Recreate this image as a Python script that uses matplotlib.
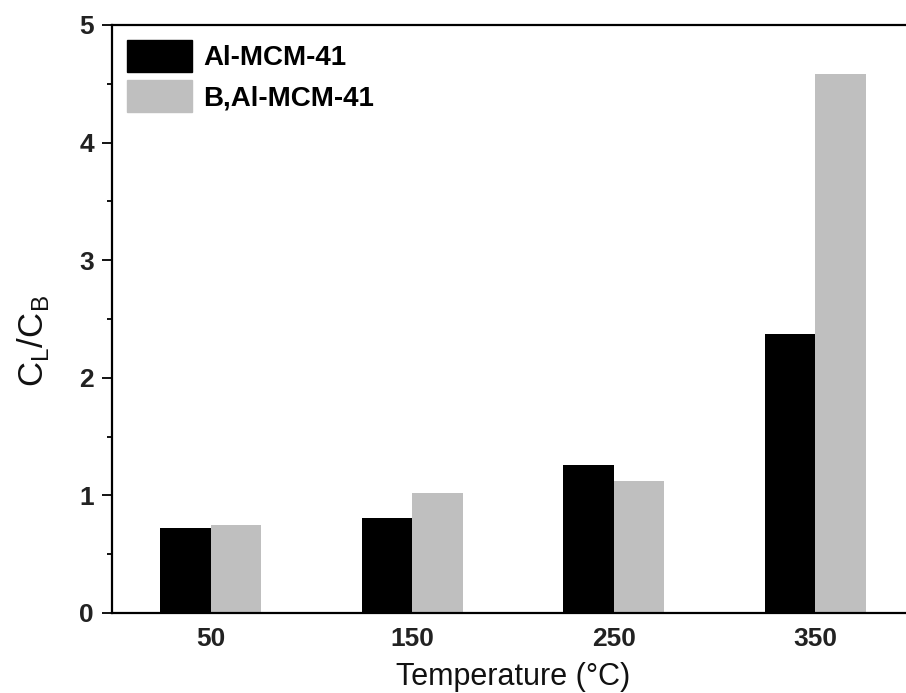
"""
Razão C_L/C_B por temperatura para Al-MCM-41 e B,Al-MCM-41.
"""

import numpy as np
import matplotlib
matplotlib.use("Agg")
import matplotlib.pyplot as plt
import matplotlib.patches as mpatches
from matplotlib.ticker import MultipleLocator

# Dados
temperaturas = ["50", "150", "250", "350"]
al_mcm = [0.72, 0.805, 1.26, 2.37]
b_al_mcm = [0.75, 1.02, 1.12, 4.58]
series = ["Al-MCM-41", "B,Al-MCM-41"]

# Cores
COR_AL = "#000000"
COR_BAL = "#bfbfbf"

plt.rcParams["font.family"] = ["Liberation Sans", "DejaVu Sans"]

W, H = 906, 693
fig = plt.figure(figsize=(W / 100, H / 100), dpi=100)
# eixo passa da borda direita, como no original recortado
ax = fig.add_axes([112 / W, (H - 613) / H, (914 - 112) / W, (613 - 25) / H])

x = np.arange(len(temperaturas))
largura = 0.25
ax.bar(x - largura / 2, al_mcm, largura, color=COR_AL, linewidth=0)
ax.bar(x + largura / 2, b_al_mcm, largura, color=COR_BAL, linewidth=0)

ax.set_xlim(-0.49, 3.49)
ax.set_ylim(0, 5)
ax.set_xticks(x)
ax.set_xticklabels(temperaturas, fontsize=19, fontweight="bold", color="#222222")
ax.yaxis.set_major_locator(MultipleLocator(1))
ax.yaxis.set_minor_locator(MultipleLocator(0.5))
ax.tick_params(axis="y", which="major", direction="out", length=7, width=1.3,
               labelsize=19, pad=6)
ax.tick_params(axis="y", which="minor", direction="out", length=3.5, width=1.3)
ax.tick_params(axis="x", length=0, pad=10)
for lbl in ax.get_yticklabels():
    lbl.set_fontweight("bold")
    lbl.set_color("#222222")

for s in ax.spines.values():
    s.set_linewidth(1.6)

ax.set_xlabel("Temperature (°C)", fontsize=22, labelpad=8, color="#111111")
ax.set_ylabel(r"C$_\mathregular{L}$/C$_\mathregular{B}$", fontsize=25,
              color="#111111")
ax.yaxis.set_label_coords(-0.076, 0.463)

# Legenda sem moldura
handles = [
    mpatches.Patch(color=COR_AL, label=series[0]),
    mpatches.Patch(color=COR_BAL, label=series[1]),
]
ax.legend(handles=handles, loc="upper left", frameon=False,
          bbox_to_anchor=(127 / W, 1 - 40 / H), bbox_transform=fig.transFigure,
          borderaxespad=0, borderpad=0, handlelength=2.34, handleheight=1.4,
          handletextpad=0.4, labelspacing=0.28,
          prop={"size": 20, "weight": "bold"})

fig.savefig("out.png", dpi=100)
